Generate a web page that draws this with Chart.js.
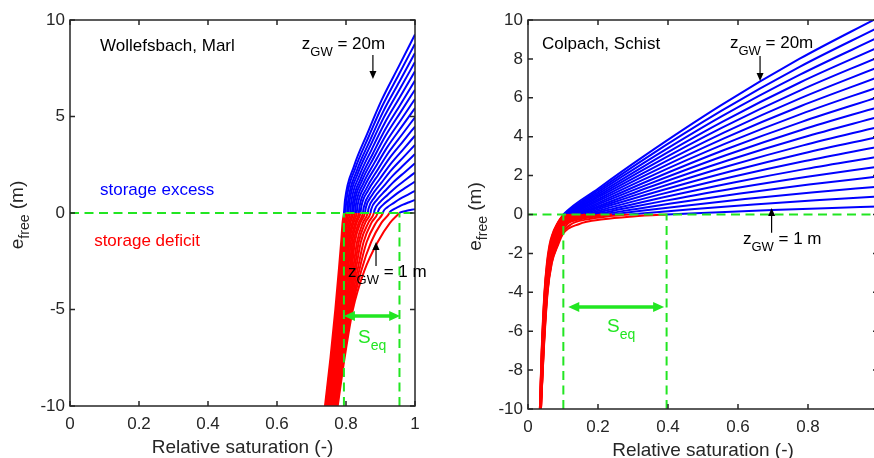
<!DOCTYPE html>
<html>
<head>
<meta charset="utf-8">
<script src="https://cdn.jsdelivr.net/npm/chart.js@4.4.1/dist/chart.umd.min.js"></script>
<style>
  html, body { margin: 0; padding: 0; background: #fff; overflow: hidden; }
  #wrap { position: relative; width: 874px; height: 458px; overflow: hidden; }
  canvas { position: absolute; top: 0; }
  #marl { left: 0; }
  #schist { left: 440px; }
</style>
</head>
<body>
<div id="wrap">
  <canvas id="marl" width="440" height="458"></canvas>
  <canvas id="schist" width="440" height="458"></canvas>
</div>
<script>
// groundwater depths z_GW (m), one curve each
const depths = [1,2,3,4,5,6,7,8,9,10,11,12,13,14,15,16,17,18,19,20];
const xTickLabels = ['0', '0.2', '0.4', '0.6', '0.8', '1'];

// --- Wollefsbach, Marl ---
// deficit branch: saturation read at fixed e_free levels
const marlDeficitLevels = [-10, -7.5, -5, -3, -1.5, -0.5, 0];
const marlDeficitS = [
  [0.776,0.796,0.820,0.853,0.892,0.928,0.955],
  [0.774,0.794,0.817,0.844,0.873,0.903,0.926],
  [0.772,0.792,0.815,0.838,0.860,0.887,0.907],
  [0.770,0.790,0.812,0.833,0.851,0.874,0.892],
  [0.768,0.787,0.809,0.828,0.843,0.865,0.881],
  [0.766,0.785,0.807,0.824,0.837,0.856,0.871],
  [0.764,0.783,0.804,0.820,0.832,0.849,0.863],
  [0.762,0.781,0.801,0.816,0.826,0.842,0.855],
  [0.760,0.779,0.799,0.813,0.822,0.837,0.849],
  [0.758,0.777,0.796,0.810,0.818,0.831,0.842],
  [0.757,0.774,0.793,0.806,0.814,0.827,0.837],
  [0.755,0.772,0.790,0.803,0.810,0.822,0.831],
  [0.753,0.770,0.788,0.800,0.807,0.818,0.826],
  [0.751,0.768,0.785,0.797,0.804,0.813,0.821],
  [0.749,0.766,0.782,0.794,0.801,0.809,0.817],
  [0.747,0.764,0.780,0.791,0.798,0.805,0.812],
  [0.745,0.761,0.777,0.788,0.794,0.801,0.807],
  [0.743,0.759,0.774,0.785,0.792,0.798,0.803],
  [0.741,0.757,0.772,0.782,0.789,0.794,0.798],
  [0.739,0.755,0.769,0.779,0.786,0.790,0.794]
];
// excess branch: (S, e_free) points
const marlExcessS = [
  [0.9557,0.9613,0.9699,0.9789,0.9897,1],
  [0.9271,0.9364,0.9504,0.9652,0.9830,1],
  [0.9084,0.9200,0.9377,0.9563,0.9786,1],
  [0.8936,0.9071,0.9276,0.9492,0.9752,1],
  [0.8828,0.8977,0.9203,0.9441,0.9726,1],
  [0.8729,0.8891,0.9136,0.9394,0.9703,1],
  [0.8651,0.8822,0.9082,0.9356,0.9685,1],
  [0.8572,0.8753,0.9029,0.9319,0.9667,1],
  [0.8513,0.8701,0.8988,0.9290,0.9653,1],
  [0.8444,0.8641,0.8941,0.9257,0.9637,1],
  [0.8394,0.8598,0.8908,0.9234,0.9625,1],
  [0.8335,0.8547,0.8868,0.9206,0.9611,1],
  [0.8286,0.8504,0.8834,0.9182,0.9600,1],
  [0.8237,0.8461,0.8801,0.9159,0.9588,1],
  [0.8197,0.8426,0.8774,0.9140,0.9579,1],
  [0.8148,0.8383,0.8740,0.9116,0.9568,1],
  [0.8099,0.8340,0.8707,0.9093,0.9556,1],
  [0.8060,0.8306,0.8680,0.9074,0.9547,1],
  [0.8010,0.8263,0.8647,0.9051,0.9535,1],
  [0.7971,0.8228,0.8620,0.9032,0.9526,1]
];
const marlExcessE = [
  [0.014,0.052,0.089,0.126,0.164,0.20],
  [0.049,0.177,0.303,0.430,0.558,0.68],
  [0.083,0.299,0.513,0.727,0.943,1.15],
  [0.117,0.424,0.727,1.030,1.337,1.63],
  [0.151,0.546,0.937,1.327,1.722,2.10],
  [0.186,0.671,1.151,1.631,2.116,2.58],
  [0.220,0.796,1.365,1.934,2.509,3.06],
  [0.254,0.918,1.574,2.231,2.895,3.53],
  [0.289,1.043,1.788,2.534,3.288,4.01],
  [0.323,1.165,1.998,2.831,3.674,4.48],
  [0.357,1.290,2.212,3.135,4.067,4.96],
  [0.392,1.414,2.426,3.438,4.461,5.44],
  [0.426,1.537,2.636,3.735,4.846,5.91],
  [0.460,1.661,2.850,4.038,5.240,6.39],
  [0.494,1.784,3.060,4.336,5.625,6.86],
  [0.528,1.908,3.274,4.639,6.019,7.34],
  [0.563,2.033,3.488,4.942,6.412,7.82],
  [0.597,2.155,3.697,5.239,6.798,8.29],
  [0.631,2.280,3.911,5.543,7.191,8.77],
  [0.666,2.405,4.126,5.846,7.585,9.25]
];
const marlSeq = [0.794, 0.955];

// --- Colpach, Schist ---
const schistDeficitLevels = [-10, -7, -4, -2.5, -1.6, -1, -0.5, -0.25, -0.1, 0];
const schistDeficitS = [
  [0.037,0.0450,0.0560,0.0680,0.0850,0.1000,0.145,0.215,0.300,0.396],
  [0.037,0.0447,0.0555,0.0673,0.0837,0.0965,0.123,0.170,0.226,0.289],
  [0.037,0.0444,0.0551,0.0665,0.0825,0.0939,0.112,0.149,0.193,0.240],
  [0.037,0.0441,0.0546,0.0658,0.0812,0.0918,0.106,0.137,0.173,0.211],
  [0.036,0.0437,0.0541,0.0650,0.0799,0.0900,0.102,0.128,0.158,0.190],
  [0.036,0.0434,0.0536,0.0643,0.0787,0.0883,0.099,0.122,0.148,0.175],
  [0.036,0.0431,0.0532,0.0636,0.0774,0.0867,0.096,0.117,0.140,0.163],
  [0.036,0.0428,0.0527,0.0628,0.0762,0.0852,0.094,0.113,0.133,0.153],
  [0.036,0.0425,0.0522,0.0621,0.0749,0.0838,0.092,0.109,0.127,0.145],
  [0.036,0.0422,0.0517,0.0614,0.0736,0.0824,0.091,0.107,0.123,0.139],
  [0.035,0.0418,0.0513,0.0606,0.0724,0.0811,0.090,0.104,0.119,0.133],
  [0.035,0.0415,0.0508,0.0599,0.0711,0.0798,0.089,0.102,0.116,0.128],
  [0.035,0.0412,0.0503,0.0592,0.0698,0.0785,0.088,0.100,0.112,0.123],
  [0.035,0.0409,0.0498,0.0584,0.0686,0.0773,0.087,0.099,0.109,0.119],
  [0.035,0.0406,0.0494,0.0577,0.0673,0.0761,0.086,0.097,0.107,0.115],
  [0.035,0.0403,0.0489,0.0570,0.0661,0.0748,0.085,0.096,0.105,0.112],
  [0.034,0.0399,0.0484,0.0562,0.0648,0.0736,0.085,0.094,0.102,0.109],
  [0.034,0.0396,0.0479,0.0555,0.0635,0.0724,0.084,0.093,0.100,0.106],
  [0.034,0.0393,0.0475,0.0547,0.0623,0.0712,0.083,0.092,0.098,0.103],
  [0.034,0.0390,0.0470,0.0540,0.0610,0.0700,0.083,0.091,0.097,0.101]
];
const schistExcessS = [
  [0.462,0.547,0.698,0.849,1],
  [0.367,0.467,0.645,0.822,1],
  [0.324,0.430,0.620,0.810,1],
  [0.298,0.408,0.606,0.803,1],
  [0.279,0.393,0.595,0.798,1],
  [0.266,0.381,0.588,0.794,1],
  [0.255,0.372,0.582,0.791,1],
  [0.246,0.365,0.577,0.788,1],
  [0.239,0.359,0.573,0.786,1],
  [0.234,0.354,0.570,0.785,1],
  [0.228,0.350,0.567,0.783,1],
  [0.224,0.346,0.564,0.782,1],
  [0.219,0.342,0.562,0.781,1],
  [0.216,0.339,0.560,0.780,1],
  [0.212,0.336,0.558,0.779,1],
  [0.210,0.334,0.556,0.778,1],
  [0.207,0.332,0.555,0.777,1],
  [0.204,0.330,0.553,0.777,1],
  [0.202,0.327,0.552,0.776,1],
  [0.200,0.326,0.551,0.775,1]
];
const schistExcessE = [
  [0.054,0.119,0.227,0.324,0.41],
  [0.121,0.267,0.510,0.727,0.92],
  [0.187,0.415,0.792,1.130,1.43],
  [0.255,0.566,1.080,1.541,1.95],
  [0.322,0.713,1.363,1.943,2.46],
  [0.389,0.861,1.645,2.346,2.97],
  [0.456,1.009,1.928,2.749,3.48],
  [0.523,1.157,2.210,3.152,3.99],
  [0.590,1.305,2.493,3.555,4.50],
  [0.656,1.453,2.776,3.958,5.01],
  [0.723,1.601,3.058,4.361,5.52],
  [0.790,1.749,3.341,4.764,6.03],
  [0.858,1.900,3.629,5.175,6.55],
  [0.925,2.047,3.911,5.577,7.06],
  [0.992,2.195,4.194,5.980,7.57],
  [1.058,2.343,4.476,6.383,8.08],
  [1.125,2.491,4.759,6.786,8.59],
  [1.192,2.639,5.041,7.189,9.10],
  [1.259,2.787,5.324,7.592,9.61],
  [1.326,2.935,5.606,7.995,10.12]
];
const schistSeq = [0.101, 0.396];

const BLUE = '#0000ff', RED = '#ff0000', GREEN = '#22e622', INK = '#262626';
const FONT = '"Liberation Sans", Arial, Helvetica, sans-serif';

function curves(levels, defS, excS, excE) {
  return depths.map((z, k) => {
    const pts = levels.map((e, i) => ({ x: defS[k][i], y: e }));
    excS[k].forEach((s, i) => pts.push({ x: s, y: excE[k][i] }));
    return {
      label: 'z' + z, data: pts, order: 1,
      borderWidth: 2, pointRadius: 0, cubicInterpolationMode: 'monotone',
      borderColor: RED,
      segment: { borderColor: c => c.p1.parsed.y > 0.0001 ? BLUE : RED }
    };
  });
}

function dashed(seq, ymin) {
  const base = { order: 0, borderColor: GREEN, borderWidth: 2, borderDash: [9, 5.5], pointRadius: 0, tension: 0 };
  return [
    Object.assign({ data: [{ x: 0, y: 0 }, { x: 1, y: 0 }] }, base),
    Object.assign({ data: [{ x: seq[0], y: ymin }, { x: seq[0], y: 0 }] }, base),
    Object.assign({ data: [{ x: seq[1], y: ymin }, { x: seq[1], y: 0 }] }, base)
  ];
}

function runsWidth(ctx, parts) {
  let w = 0;
  parts.forEach(([t, size]) => { ctx.font = size + 'px ' + FONT; w += ctx.measureText(t).width; });
  return w;
}
function drawRuns(ctx, x, y, parts, color) {
  ctx.save();
  ctx.fillStyle = color; ctx.textBaseline = 'middle'; ctx.textAlign = 'left';
  let cx = x;
  parts.forEach(([t, size, dy]) => {
    ctx.font = size + 'px ' + FONT;
    ctx.fillText(t, cx, y + dy);
    cx += ctx.measureText(t).width;
  });
  ctx.restore();
}
function head(ctx, x, y, dx, dy, len, half) {
  const n = Math.hypot(dx, dy), ux = dx / n, uy = dy / n;
  ctx.beginPath();
  ctx.moveTo(x, y);
  ctx.lineTo(x - ux * len - uy * half, y - uy * len + ux * half);
  ctx.lineTo(x - ux * len + uy * half, y - uy * len - ux * half);
  ctx.closePath(); ctx.fill();
}

function frame(p) {
  return {
    id: 'frame',
    afterDraw(chart) {
      const ctx = chart.ctx, a = chart.chartArea, sx = chart.scales.x, sy = chart.scales.y;
      const X = v => sx.getPixelForValue(v), Y = v => sy.getPixelForValue(v);
      ctx.save();
      // box and inward ticks
      ctx.strokeStyle = INK; ctx.lineWidth = 1.5;
      ctx.strokeRect(a.left, a.top, a.right - a.left, a.bottom - a.top);
      ctx.beginPath();
      sx.ticks.forEach(t => {
        const px = X(t.value);
        ctx.moveTo(px, a.bottom); ctx.lineTo(px, a.bottom - 5);
        ctx.moveTo(px, a.top); ctx.lineTo(px, a.top + 5);
      });
      sy.ticks.forEach(t => {
        const py = Y(t.value);
        ctx.moveTo(a.left, py); ctx.lineTo(a.left + 5, py);
        ctx.moveTo(a.right, py); ctx.lineTo(a.right - 5, py);
      });
      ctx.stroke();

      // axis titles
      const xt = [['Relative saturation (-)', 19, 0]];
      drawRuns(ctx, (a.left + a.right) / 2 - runsWidth(ctx, xt) / 2, a.bottom + 42, xt, INK);
      const yt = [['e', 19, 0], ['free', 14, 7], [' (m)', 19, 0]];
      ctx.save();
      ctx.translate(a.left - 52, (a.top + a.bottom) / 2 + 2);
      ctx.rotate(-Math.PI / 2);
      drawRuns(ctx, -runsWidth(ctx, yt) / 2, 0, yt, INK);
      ctx.restore();

      // annotations
      drawRuns(ctx, X(p.site[0]), Y(p.site[1]), [[p.site[2], 17, 0]], '#000');
      drawRuns(ctx, X(p.zTop[0]), Y(p.zTop[1]), [['z', 17, 0], ['GW', 13, 8], [' = 20m', 17, 0]], '#000');
      drawRuns(ctx, X(p.zBot[0]), Y(p.zBot[1]), [['z', 17, 0], ['GW', 13, 8], [' = 1 m', 17, 0]], '#000');
      if (p.excess) drawRuns(ctx, X(p.excess[0]), Y(p.excess[1]), [['storage excess', 17, 0]], BLUE);
      if (p.deficit) drawRuns(ctx, X(p.deficit[0]), Y(p.deficit[1]), [['storage deficit', 17, 0]], RED);

      ctx.fillStyle = '#000'; ctx.strokeStyle = '#000'; ctx.lineWidth = 1.2;
      [p.arrowTop, p.arrowBot].forEach(([s, e0, e1]) => {
        const x = X(s), y0 = Y(e0), y1 = Y(e1);
        ctx.beginPath(); ctx.moveTo(x, y0); ctx.lineTo(x, y1 - Math.sign(y1 - y0) * 6); ctx.stroke();
        head(ctx, x, y1, 0, y1 - y0, 8, 3.5);
      });

      // S_eq double arrow
      const ya = Y(p.seqArrow[0]), xa = X(p.seqArrow[1]), xb = X(p.seqArrow[2]);
      ctx.strokeStyle = GREEN; ctx.fillStyle = GREEN; ctx.lineWidth = 3.5;
      ctx.beginPath(); ctx.moveTo(xa + 8, ya); ctx.lineTo(xb - 8, ya); ctx.stroke();
      head(ctx, xa, ya, -1, 0, 11, 5);
      head(ctx, xb, ya, 1, 0, 11, 5);
      drawRuns(ctx, X(p.seqText[0]), Y(p.seqText[1]), [['S', 19, 0], ['eq', 14, 8]], GREEN);
      ctx.restore();
    }
  };
}

function makeChart(id, datasets, p) {
  return new Chart(document.getElementById(id), {
    type: 'line',
    data: { datasets },
    plugins: [frame(p)],
    options: {
      responsive: false, animation: false, devicePixelRatio: 1,
      layout: { padding: { left: 0, top: 20, right: p.padRight, bottom: 0 } },
      plugins: { legend: { display: false }, tooltip: { enabled: false } },
      scales: {
        x: {
          type: 'linear', min: 0, max: 1,
          grid: { display: false, drawTicks: false }, border: { display: false },
          ticks: {
            stepSize: 0.2, padding: 8, color: INK, font: { family: FONT, size: 17 }, maxRotation: 0, autoSkip: false,
            callback: (v, i) => xTickLabels[i]
          },
          afterFit: s => { s.height = p.xHeight; s.paddingLeft = 0; s.paddingRight = 0; }
        },
        y: {
          type: 'linear', min: -10, max: 10,
          grid: { display: false, drawTicks: false }, border: { display: false },
          ticks: { stepSize: p.yStep, padding: 5, color: INK, font: { family: FONT, size: 17 }, autoSkip: false },
          afterFit: s => { s.width = p.yWidth; s.paddingTop = 0; s.paddingBottom = 0; }
        }
      }
    }
  });
}

makeChart('marl',
  curves(marlDeficitLevels, marlDeficitS, marlExcessS, marlExcessE).concat(dashed(marlSeq, -10)),
  {
    padRight: 25, xHeight: 52, yWidth: 70, yStep: 5,
    site: [0.087, 8.65, 'Wollefsbach, Marl'],
    zTop: [0.672, 8.76], zBot: [0.806, -3.06],
    arrowTop: [0.878, 8.19, 6.94], arrowBot: [0.887, -2.75, -1.50],
    excess: [0.087, 1.19], deficit: [0.070, -1.45],
    seqArrow: [-5.34, 0.794, 0.957], seqText: [0.835, -6.48]
  });

makeChart('schist',
  curves(schistDeficitLevels, schistDeficitS, schistExcessS, schistExcessE).concat(dashed(schistSeq, -10)),
  {
    padRight: 2, xHeight: 49, yWidth: 88, yStep: 2,
    site: [0.04, 8.77, 'Colpach, Schist'],
    zTop: [0.577, 8.82], zBot: [0.614, -1.30],
    arrowTop: [0.663, 8.15, 6.87], arrowBot: [0.696, -0.94, 0.34],
    seqArrow: [-4.76, 0.115, 0.389], seqText: [0.226, -5.77]
  });
</script>
</body>
</html>
